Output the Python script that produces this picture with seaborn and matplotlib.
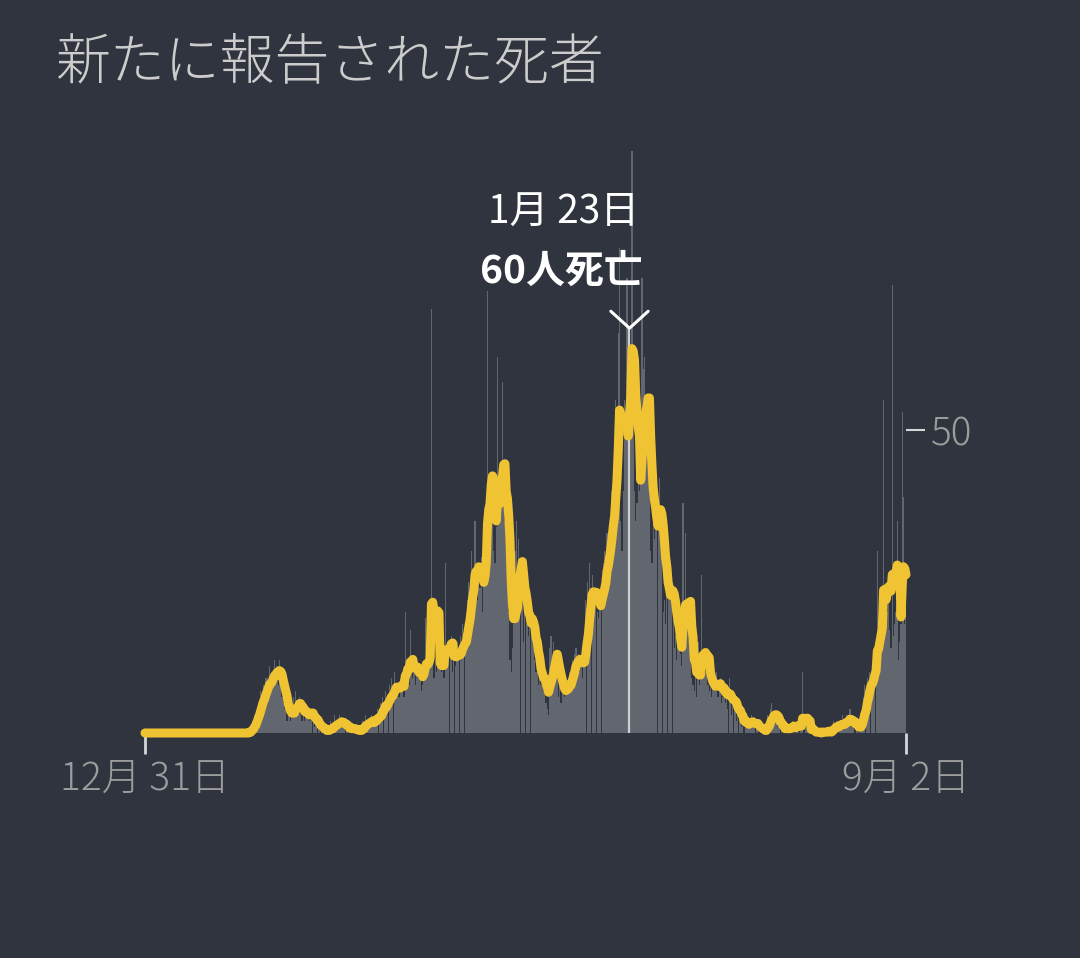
import numpy as np
import pandas as pd
import matplotlib.pyplot as plt
import seaborn as sns

# Daily reported deaths, day 0 = 12月31日 (2019) ... day 611 = 9月2日 (2021)
daily_deaths = [
    # d0 - d83: nothing reported
    0, 0, 0, 0, 0, 0, 0, 0, 0, 0, 0, 0, 0, 0,
    0, 0, 0, 0, 0, 0, 0, 0, 0, 0, 0, 0, 0, 0,
    0, 0, 0, 0, 0, 0, 0, 0, 0, 0, 0, 0, 0, 0,
    0, 0, 0, 0, 0, 0, 0, 0, 0, 0, 0, 0, 0, 0,
    0, 0, 0, 0, 0, 0, 0, 0, 0, 0, 0, 0, 0, 0,
    0, 0, 0, 0, 0, 0, 0, 0, 0, 0, 0, 0, 0, 0,
    # d84 - first wave
    1, 0, 2, 1, 3, 2, 4,
    5, 4, 7, 6, 8, 5, 9,
    9, 8, 11, 7, 10, 9, 12,
    10, 11, 8, 12, 9, 6, 5,
    4, 5, 2, 3, 4, 2, 3,
    6, 3, 7, 4, 5, 6, 3,
    2, 3, 2, 5, 3, 4, 2,
    4, 3, 2, 1, 2, 1, 2,
    1, 0, 1, 0, 0, 1, 0,
    # d147 - summer lull
    1, 0, 2, 1, 0, 3, 1,
    2, 1, 3, 2, 1, 2, 1,
    0, 1, 1, 0, 2, 0, 1,
    0, 1, 0, 0, 1, 0, 1,
    2, 1, 3, 1, 2, 1, 2,
    3, 2, 1, 3, 2, 4, 2,
    5, 3, 6, 4, 7, 3, 5,
    8, 6, 9, 5, 10, 7, 8,
    # d203 - autumn wave
    7, 6, 9, 8, 10, 6, 20,
    9, 12, 8, 17, 10, 9, 11,
    8, 12, 9, 11, 10, 7, 8,
    11, 19, 14, 10, 12, 13, 70,
    13, 9, 12, 10, 14, 11, 12,
    10, 12, 9, 28, 11, 13, 12,
    14, 16, 10, 13, 11, 12, 15,
    13, 16, 12, 18, 14, 15, 17,
    22, 25, 20, 30, 27, 24, 35,
    26, 22, 28, 24, 29, 20, 25,
    33, 38, 73, 40, 36, 42, 35,
    30, 28, 34, 62, 36, 40, 38,
    58, 42, 35, 30, 28, 20, 12,
    10, 14, 18, 30, 35, 25, 32,
    28, 22, 26, 15, 20, 18, 22,
    16, 19, 17, 20, 16, 12, 10,
    11, 8, 9, 8, 11, 7, 9,
    5, 4, 3, 14, 16, 12, 15,
    13, 11, 10, 6, 8, 5, 9,
    7, 6, 8, 7, 9, 10, 8,
    # d343 - winter wave
    12, 11, 13, 14, 12, 13, 10,
    11, 9, 12, 15, 22, 25, 20,
    28, 24, 26, 18, 22, 24, 20,
    19, 23, 21, 25, 28, 30, 27,
    33, 29, 31, 35, 40, 44, 38,
    55, 50, 66, 80, 35, 30, 40,
    55, 50, 75, 58, 60, 50, 96,
    52, 40, 35, 38, 42, 40, 45,
    75, 60, 62, 45, 50, 50, 45,
    30, 28, 35, 32, 40, 38, 36,
    42, 35, 30, 20, 22, 18, 25,
    24, 28, 22, 26, 21, 14, 16,
    12, 18, 15, 13, 11, 38, 20,
    33, 17, 18, 14, 12, 9, 8,
    7, 14, 6, 15, 8, 9, 26,
    12, 13, 10, 11, 8, 7, 9,
    6, 8, 9, 7, 10, 6, 8,
    9, 5, 6, 8, 5, 7, 4,
    9, 6, 3, 5, 4, 6, 2,
    4, 3, 2, 1, 2, 0, 3,
    # d483 - spring / summer 2021
    1, 2, 1, 2, 3, 1, 2,
    0, 2, 1, 0, 1, 0, 1,
    0, 0, 1, 3, 2, 4, 5,
    2, 3, 2, 3, 1, 2, 0,
    1, 0, 1, 0, 2, 1, 0,
    1, 1, 2, 1, 0, 2, 1,
    1, 2, 1, 10, 0, 1, 2,
    1, 0, 0, 0, 1, 0, 0,
    0, 0, 0, 0, 0, 1, 0,
    0, 0, 0, 1, 0, 0, 1,
    2, 1, 2, 1, 0, 2, 1,
    3, 1, 2, 3, 1, 2, 4,
    1, 2, 1, 0, 2, 1, 0,
    # d574 - late summer wave
    1, 2, 4, 6, 8, 5, 9,
    7, 10, 10, 8, 12, 11, 14,
    30, 12, 18, 16, 20, 55, 15,
    18, 20, 25, 17, 14, 74, 16,
    18, 20, 35, 12, 15, 18, 53,
    39, 18, 28,
]

peak_day = 389  # 1月23日
peak_date_text = "1月 23日"
peak_count_text = "60人死亡"
x_tick_days = [0, 611]
x_tick_labels = ["12月 31日", "9月 2日"]
y_tick_values = [50]
title_text = "新たに報告された死者"

bg_color = "#2f343e"
bar_color = "#62666f"
line_color = "#efc332"
tick_color = "#d6d6d6"
label_color = "#9d9d9d"

df = pd.DataFrame({"day": np.arange(len(daily_deaths)), "deaths": daily_deaths})
df["avg"] = df["deaths"].rolling(7, min_periods=1).mean()
print("days:", len(df), "max avg:", round(df["avg"].max(), 1))

sns.set_theme(style="dark")
plt.rcParams["font.family"] = ["Noto Sans CJK JP", "DejaVu Sans"]

fig = plt.figure(figsize=(10.8, 9.58), dpi=100, facecolor=bg_color)
ax = fig.add_axes([145 / 1080, 225 / 958, 761 / 1080, 606 / 958])
ax.set_facecolor(bg_color)

sns.barplot(data=df, x="day", y="deaths", native_scale=True, color=bar_color,
            saturation=1, width=0.95, errorbar=None, linewidth=0, ax=ax)

# highlight line for the labelled day
ax.vlines(peak_day, 0, 66.8, color="#cfcfcf", lw=1.6, zorder=3)

sns.lineplot(data=df, x="day", y="avg", color=line_color, lw=6.5, ax=ax,
             zorder=4, clip_on=False, solid_capstyle="round", solid_joinstyle="round")

# caret and annotation
ax.plot([peak_day - 15, peak_day, peak_day + 15], [69.6, 66.8, 69.6],
        color="white", lw=2.2, zorder=5, clip_on=False)
ax.text(336, 85.8, peak_date_text, color="white", fontsize=28,
        ha="center", va="center", zorder=6)
ax.text(334, 76.2, peak_count_text, color="white", fontsize=28,
        fontweight="bold", ha="center", va="center", zorder=6)

ax.set_xlim(0, 611)
ax.set_ylim(0, 100)
ax.grid(False)
for s in ax.spines.values():
    s.set_visible(False)

ax.set_xticks(x_tick_days)
ax.set_xticklabels(x_tick_labels, fontweight="light")
ax.tick_params(axis="x", bottom=True, length=15, width=2, color=tick_color,
               labelcolor=label_color, labelsize=28, pad=4)

ax.yaxis.tick_right()
ax.set_yticks(y_tick_values)
ax.set_yticklabels([str(v) for v in y_tick_values], fontweight="light")
ax.tick_params(axis="y", right=True, left=False, length=14, width=1.5, color=tick_color,
               labelcolor=label_color, labelsize=28, pad=4)
ax.set_xlabel("")
ax.set_ylabel("")

fig.text(55 / 1080, 1 - 63 / 958, title_text, color="#cccccc", fontsize=39.5,
         fontweight="light", ha="left", va="center")

fig.savefig("out.png", dpi=100, facecolor=bg_color)
